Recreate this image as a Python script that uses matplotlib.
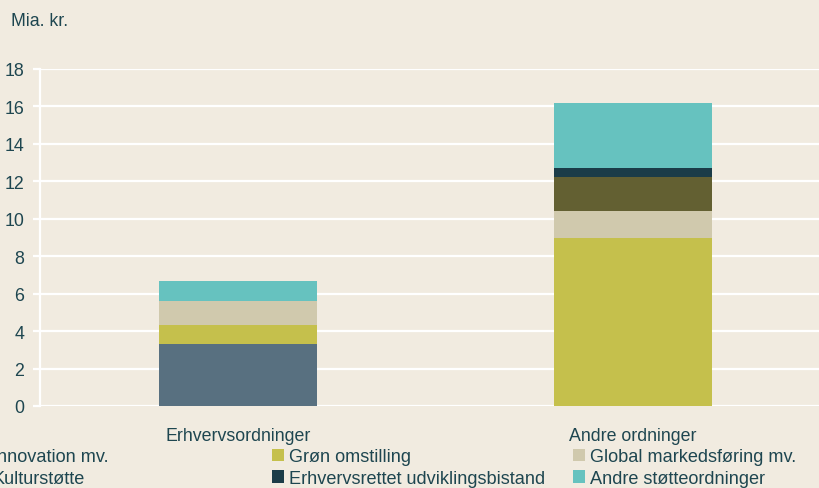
import numpy as np
import matplotlib
matplotlib.use("Agg")
import matplotlib.pyplot as plt
from matplotlib.patches import Patch

plt.rcParams['font.family'] = ['Liberation Sans', 'DejaVu Sans']

# data (mia. kr.)
categories = ["Erhvervsordninger", "Andre ordninger"]
series_names = ["Innovation mv.", "Grøn omstilling", "Global markedsføring mv.",
                "Kulturstøtte", "Erhvervsrettet udviklingsbistand", "Andre støtteordninger"]
innovation = [3.3, 0.0]
groen = [1.05, 9.0]
global_mf = [1.28, 1.42]
kultur = [0.0, 1.82]
bistand = [0.0, 0.46]
andre = [1.06, 3.48]

colors = ["#587080", "#c5c04c", "#d0c9ad", "#636032", "#1b3c48", "#66c2bf"]
bg = "#f1ebe0"
txt = "#1e4650"
fs = 12.8

fig = plt.figure(figsize=(8.19, 4.89), dpi=100, facecolor=bg)
ax = fig.add_axes([40/819, 1-407/489, 779/819, 337/489])
ax.set_facecolor(bg)

x = np.arange(len(categories))
bottom = np.zeros(len(categories))
for name, vals, c in zip(series_names, [innovation, groen, global_mf, kultur, bistand, andre], colors):
    ax.bar(x, vals, width=0.4, bottom=bottom, color=c, zorder=3, label=name)
    bottom += np.array(vals)

ax.set_xlim(-0.501, 1.471)
ax.set_ylim(0, 18)
ax.set_yticks(np.arange(0, 19, 2))
ax.set_xticks(x)
ax.set_xticklabels(categories)
ax.grid(axis='y', color='white', linewidth=1.6, zorder=0)
ax.set_axisbelow(True)
for s in ['top', 'right', 'bottom']:
    ax.spines[s].set_visible(False)
ax.spines['left'].set_color('white')
ax.spines['left'].set_linewidth(1.6)
ax.tick_params(axis='y', colors='white', length=5, width=1.6, pad=6.5, labelsize=fs, labelcolor=txt)
ax.tick_params(axis='x', length=0, pad=15, labelsize=fs, labelcolor=txt)

fig.text(11/819, 1-26/489, "Mia. kr.", fontsize=fs, color=txt, ha='left', va='baseline')

handles = [Patch(facecolor=c, edgecolor='none') for c in colors]
col_x = [-25, 272, 573]
for i, cx in enumerate(col_x):
    fig.legend([handles[i], handles[i+3]], [series_names[i], series_names[i+3]],
               loc='upper left', bbox_to_anchor=(cx/819, 1-449/489),
               frameon=False, fontsize=13.1, labelcolor=txt,
               handlelength=0.65, handleheight=0.65, handletextpad=0.3,
               labelspacing=0.27, borderpad=0, borderaxespad=0)

fig.savefig("out.png", dpi=100, facecolor=bg)
